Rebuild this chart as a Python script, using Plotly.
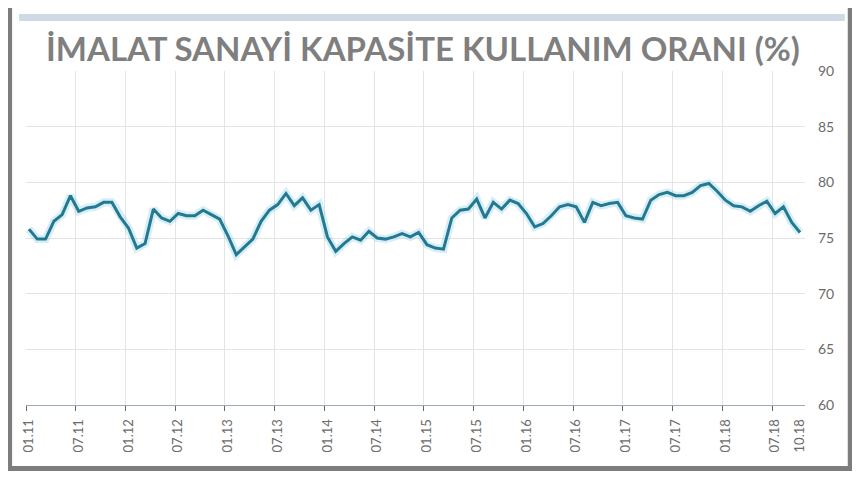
import plotly.graph_objects as go

# Monthly capacity utilization rate, 01.2011 - 10.2018
values = [
    75.8, 74.9, 74.9, 76.5, 77.1, 78.8, 77.4, 77.7, 77.8, 78.2, 78.2, 76.9,  # 2011
    75.9, 74.1, 74.5, 77.6, 76.8, 76.5, 77.2, 77.0, 77.0, 77.5, 77.1, 76.7,  # 2012
    75.2, 73.5, 74.2, 74.9, 76.5, 77.5, 78.0, 79.0, 77.9, 78.6, 77.5, 78.0,  # 2013
    75.1, 73.8, 74.5, 75.1, 74.8, 75.6, 75.0, 74.9, 75.1, 75.4, 75.1, 75.5,  # 2014
    74.4, 74.1, 74.0, 76.8, 77.5, 77.6, 78.5, 76.8, 78.2, 77.6, 78.4, 78.1,  # 2015
    77.2, 76.0, 76.3, 77.0, 77.8, 78.0, 77.8, 76.4, 78.2, 77.9, 78.1, 78.2,  # 2016
    77.0, 76.8, 76.7, 78.4, 78.9, 79.1, 78.8, 78.8, 79.1, 79.7, 79.9, 79.2,  # 2017
    78.4, 77.9, 77.8, 77.4, 77.9, 78.3, 77.2, 77.8, 76.4, 75.5,              # 2018
]
month_index = list(range(len(values)))

tick_labels = ["01.11", "07.11", "01.12", "07.12", "01.13", "07.13", "01.14", "07.14",
               "01.15", "07.15", "01.16", "07.16", "01.17", "07.17", "01.18", "07.18", "10.18"]
tick_positions = [0, 6, 12, 18, 24, 30, 36, 42, 48, 54, 60, 66, 72, 78, 84, 90, 93]
grid_offset = -0.36
grid_positions = [p + grid_offset for p in tick_positions[:-1]]

y_ticks = [60, 65, 70, 75, 80, 85, 90]
title_text = "İMALAT SANAYİ KAPASİTE KULLANIM ORANI (%)"

# page body has an 8px margin; figure is sized so it fills the window exactly
OFF = 8
W, H = 860 - OFF, 480 - OFF
# plot area in window pixels: x 22..805, y 71..405
ML = 22 - OFF
MT = 71 - OFF
MR = W - (805 - OFF)
MB = H - (405 - OFF)
PW, PH = W - ML - MR, H - MT - MB


def px(x):
    return (x - OFF - ML) / PW


def py(y):
    return (H - MB - (y - OFF)) / PH


fig = go.Figure()

# soft glow under the line
fig.add_trace(go.Scatter(
    x=month_index, y=values, mode="lines",
    line=dict(color="rgba(110,195,225,0.28)", width=8),
    hoverinfo="skip", showlegend=False,
))
fig.add_trace(go.Scatter(
    x=month_index, y=values, mode="lines",
    line=dict(color="#23798f", width=3),
    showlegend=False,
))

xr = [grid_offset, 93.6]

fig.update_layout(
    width=W, height=H, autosize=False,
    margin=dict(l=ML, r=MR, t=MT, b=MB, pad=0),
    paper_bgcolor="white", plot_bgcolor="white",
    font=dict(family="Lato, Open Sans, sans-serif", color="#6b6b6b"),
    title=dict(
        text=title_text,
        x=px(421), xref="paper", xanchor="center",
        y=1 - (49 - OFF) / H, yref="container", yanchor="middle",
        font=dict(family="Lato, Open Sans, sans-serif", size=33, color="#7f7f7f", weight="bold"),
    ),
    xaxis=dict(
        range=xr, tickmode="array", tickvals=tick_positions, ticktext=tick_labels,
        tickangle=-90, showgrid=False, ticks="", zeroline=False,
        showline=True, linecolor="#9aaabb", linewidth=1,
        tickfont=dict(size=13, color="#6b6b6b"), ticklabelstandoff=8,
    ),
    xaxis2=dict(
        range=xr, overlaying="x", anchor="y", side="bottom",
        tickmode="array", tickvals=grid_positions, showticklabels=False,
        showgrid=True, gridcolor="#e4e4e4", gridwidth=1,
        ticks="outside", ticklen=5, tickcolor="#666666", tickwidth=1,
        zeroline=False, showline=False,
    ),
    yaxis=dict(
        range=[60, 90], side="right", tickmode="array", tickvals=y_ticks,
        showgrid=True, gridcolor="#e4e4e4", gridwidth=1,
        zeroline=False, showline=False, ticks="",
        tickfont=dict(size=14, color="#6b6b6b"), ticklabelstandoff=12,
    ),
    shapes=[
        dict(type="rect", xref="paper", yref="paper",
             x0=px(15), x1=px(845), y0=py(21), y1=py(14),
             fillcolor="#cfdae5", line=dict(width=0), layer="below"),
        dict(type="rect", xref="paper", yref="paper",
             x0=px(5.5), x1=px(850.5), y0=py(468.5), y1=py(5.5),
             fillcolor="rgba(0,0,0,0)", line=dict(color="#7d7d7d", width=5)),
    ],
)

# empty trace so that xaxis2 (grid lines and tick marks) is drawn
fig.add_trace(go.Scatter(x=[None], y=[None], xaxis="x2", yaxis="y",
                         showlegend=False, hoverinfo="skip"))

fig.write_html("out.html")
